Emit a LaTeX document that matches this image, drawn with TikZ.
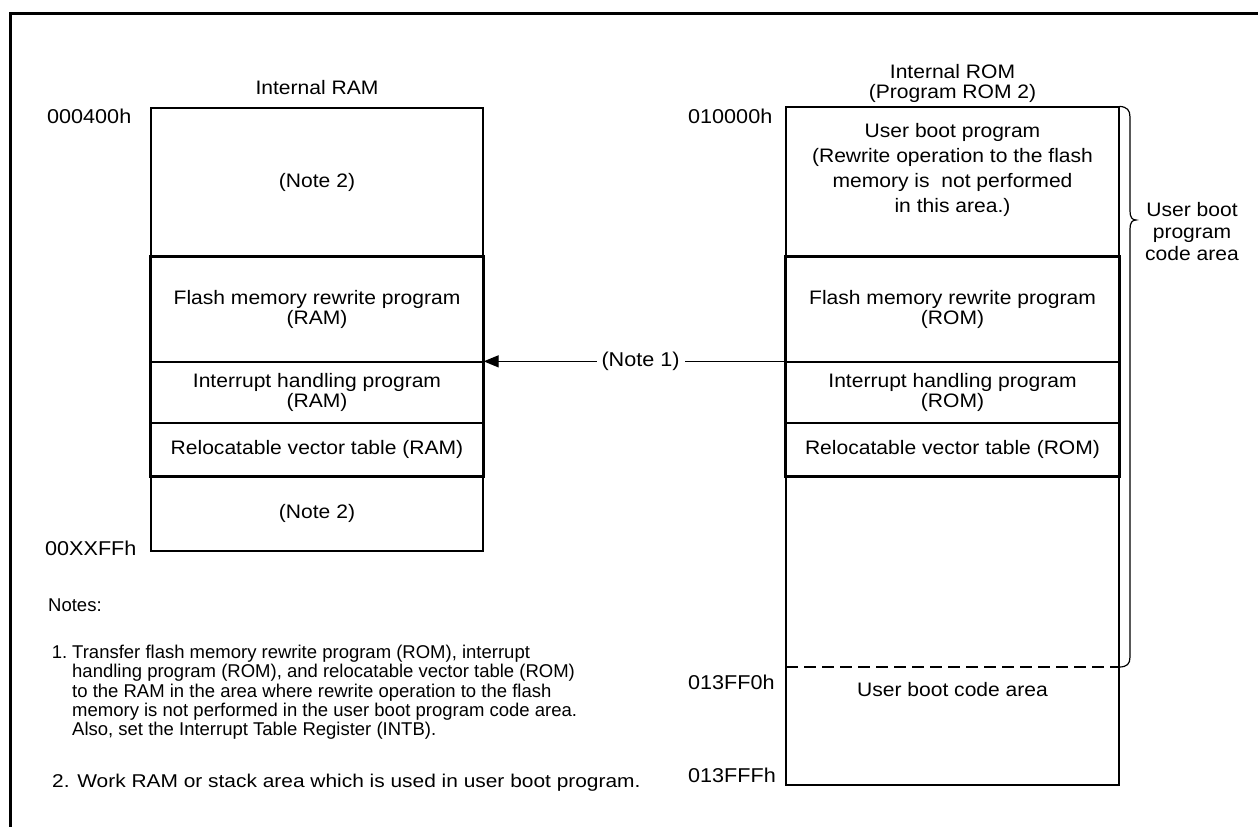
\documentclass[tikz,border=0pt]{standalone}
\usepackage{fontspec}
\setmainfont[FakeStretch=1.08]{Liberation Sans}
\newfontfamily\notefamA[FakeStretch=1.0]{Liberation Sans}
\newfontfamily\notefamB[FakeStretch=1.13]{Liberation Sans}
\usetikzlibrary{arrows.meta}

\begin{document}
\begin{tikzpicture}[x=1pt,y=-1pt,
  txt/.style={inner sep=0pt, align=center, font=\fontsize{19.5}{20}\selectfont},
  addr/.style={inner sep=0pt, anchor=west, font=\fontsize{20}{20}\selectfont},
  cell/.style={draw, line width=1.3pt, inner sep=0pt, align=center,
               font=\fontsize{19.5}{20}\selectfont},
  ramcell/.style={cell, minimum width=332pt},
  romcell/.style={cell, minimum width=333pt},
  heavyframe/.style={draw, line width=2.8pt},
  notetxt/.style={inner sep=0pt, align=left, font=\notefamA\fontsize{18.5}{19.2}\selectfont}
]
\useasboundingbox (0,0) rectangle (1258,827);

% page frame (left and top edges)
\draw[line width=3pt] (10,827) -- (10,13) -- (1258,13);

% ---------------- Internal RAM ----------------
\node[txt] (ramtitle) at (317,88) {Internal RAM};
\node[ramcell, minimum height=149pt] (ramtop)   at (317,182.5) {(Note 2)};
\node[ramcell, minimum height=105pt] (ramflash) at (317,309.5) {Flash memory rewrite program\\(RAM)};
\node[ramcell, minimum height=61pt]  (ramint)   at (317,392.5) {Interrupt handling program\\(RAM)};
\node[ramcell, minimum height=53pt]  (ramvec)   at (317,449.5) {Relocatable vector table (RAM)};
\node[ramcell, minimum height=75pt]  (rambot)   at (317,513.5) {(Note 2)};
\draw[heavyframe] (ramflash.north west) rectangle (ramvec.south east);

\node[addr] (a400)  at (47,116) {000400h};
\node[addr] (axxff) at (45,548) {00XXFFh};

% ---------------- Internal ROM ----------------
\node[txt] (romtitle) at (952.5,83.5) {Internal ROM\\(Program ROM 2)};
\node[cell, minimum width=333pt, minimum height=678pt] (rom) at (952.5,446) {};
\node[txt, font=\fontsize{19.5}{25}\selectfont] (romboot) at (952.5,170)
  {User boot program\\(Rewrite operation to the flash\\memory is\ \ not performed\\in this area.)};
\node[romcell, minimum height=105pt] (romflash) at (952.5,309.5) {Flash memory rewrite program\\(ROM)};
\node[romcell, minimum height=61pt]  (romint)   at (952.5,392.5) {Interrupt handling program\\(ROM)};
\node[romcell, minimum height=53pt]  (romvec)   at (952.5,449.5) {Relocatable vector table (ROM)};
\draw[heavyframe] (romflash.north west) rectangle (romvec.south east);

\coordinate (dashL) at (786,667);
\coordinate (dashR) at (1119,667);
\draw[line width=1.8pt, dash pattern=on 12pt off 6pt] (dashL) -- (dashR);
\node[txt] (ucode) at (952.5,690) {User boot code area};

\node[addr] (a10000) at (688,116) {010000h};
\node[addr] (a3ff0)  at (688,682) {013FF0h};
\node[addr] (a3fff)  at (688,775) {013FFFh};

% brace over the user boot program code area
\draw[line width=1.2pt] (rom.north east)
  .. controls (1127,107) and (1130,110) .. (1130,117)
  -- (1130,211)
  .. controls (1130,217) and (1132,220) .. (1136,220)
  .. controls (1132,220) and (1130,223) .. (1130,229)
  -- (1130,657)
  .. controls (1130,664) and (1127,667) .. (dashR);
\node[txt, font=\fontsize{19.5}{22}\selectfont] (bracelbl) at (1192,232) {User boot\\program\\code area};

% transfer arrow
\draw[line width=1.3pt, -{Triangle[length=15pt,width=12pt]}]
  (romint.north west) -- node[pos=0.48, fill=white, inner sep=5pt, font=\fontsize{20}{20}\selectfont] (note1) {(Note 1)} (ramint.north east);

% ---------------- Notes ----------------
\node[notetxt, anchor=west] (notes) at (48,605) {Notes:};
\node[notetxt, anchor=north west] (n1txt) at (72,645)
  {\llap{1.\hspace*{5pt}}Transfer flash memory rewrite program (ROM), interrupt\\
   handling program (ROM), and relocatable vector table (ROM)\\
   to the RAM in the area where rewrite operation to the flash\\
   memory is not performed in the user boot program code area.\\
   Also, set the Interrupt Table Register (INTB).};
\node[notetxt, anchor=west, font=\notefamB\fontsize{18.5}{19.2}\selectfont] (n2) at (52,783)
  {2. Work RAM or stack area which is used in user boot program.};
\end{tikzpicture}
\end{document}
